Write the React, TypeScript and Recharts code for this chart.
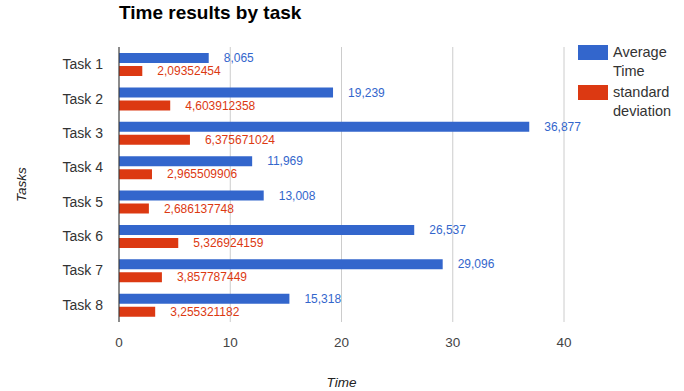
import React from "react";
import {
  BarChart,
  Bar,
  XAxis,
  YAxis,
  CartesianGrid,
  LabelList,
} from "recharts";

const tasks = ["Task 1", "Task 2", "Task 3", "Task 4", "Task 5", "Task 6", "Task 7", "Task 8"];
const averageTime = [8.065, 19.239, 36.877, 11.969, 13.008, 26.537, 29.096, 15.318];
const standardDeviation = [
  2.09352454, 4.603912358, 6.375671024, 2.965509906, 2.686137748, 5.326924159,
  3.857787449, 3.255321182,
];
const xTicks = [0, 10, 20, 30, 40];

const BLUE = "#3366cc";
const RED = "#dc3912";
const FONT = "'Liberation Sans', Arial, sans-serif";

const data = tasks.map((name, i) => ({
  name,
  avg: averageTime[i],
  sd: standardDeviation[i],
}));

// values are shown with a decimal comma
const fmt = (v: number) => String(v).replace(".", ",");

const makeLabel = (color: string) => (props: any) => {
  const { x, y, width, height, value } = props;
  return (
    <text
      x={x + width + 15}
      y={y + height / 2}
      dy="0.35em"
      fill={color}
      fontSize={12}
      fontFamily={FONT}
    >
      {fmt(value)}
    </text>
  );
};

const legendItems = [
  { color: BLUE, lines: ["Average", "Time"] },
  { color: RED, lines: ["standard", "deviation"] },
];

const LegendBox = () => (
  <div
    style={{
      position: "absolute",
      left: 578,
      top: 45,
      fontFamily: FONT,
      fontSize: 14.5,
      color: "#333",
      lineHeight: "19px",
    }}
  >
    {legendItems.map((item) => (
      <div key={item.lines[0]} style={{ display: "flex", marginBottom: 4 }}>
        <div
          style={{
            width: 30,
            height: 15,
            background: item.color,
            marginRight: 5,
            flexShrink: 0,
          }}
        />
        <div style={{ marginTop: -2 }}>
          {item.lines.map((l) => (
            <div key={l}>{l}</div>
          ))}
        </div>
      </div>
    ))}
  </div>
);

export default function App() {
  return (
    <div style={{ position: "relative", width: 684, height: 391, background: "#fff" }}>
      <style>{`body{margin:0}`}</style>
      <div
        style={{
          position: "absolute",
          left: 119,
          top: 2,
          fontFamily: FONT,
          fontWeight: "bold",
          fontSize: 19,
          color: "#000",
        }}
      >
        Time results by task
      </div>
      <BarChart
        width={684}
        height={391}
        data={data}
        layout="vertical"
        margin={{ top: 47, right: 120, bottom: 0, left: 0 }}
        barSize={10}
        barGap={3}
        barCategoryGap={0}
      >
        <CartesianGrid horizontal={false} stroke="#cccccc" />
        <XAxis
          type="number"
          domain={[0, 40]}
          ticks={xTicks}
          axisLine={false}
          tickLine={false}
          height={69}
          tick={{ fill: "#444", fontSize: 13.5, fontFamily: FONT }}
          tickMargin={9}
          label={{
            value: "Time",
            position: "insideBottom",
            offset: 4,
            fill: "#222",
            fontSize: 13.5,
            fontStyle: "italic",
            fontFamily: FONT,
          }}
        />
        <YAxis
          type="category"
          dataKey="name"
          width={119}
          axisLine={{ stroke: "#333" }}
          tickLine={false}
          tickMargin={10}
          tick={{ fill: "#333", fontSize: 14, fontFamily: FONT }}
          label={({ viewBox }: any) => (
            <text
              x={26}
              y={viewBox.y + viewBox.height / 2}
              transform={`rotate(-90 26 ${viewBox.y + viewBox.height / 2})`}
              textAnchor="middle"
              fill="#222"
              fontSize={13.5}
              fontStyle="italic"
              fontFamily={FONT}
            >
              Tasks
            </text>
          )}
        />
        <Bar dataKey="avg" name="Average Time" fill={BLUE} isAnimationActive={false}>
          <LabelList dataKey="avg" content={makeLabel(BLUE)} />
        </Bar>
        <Bar dataKey="sd" name="standard deviation" fill={RED} isAnimationActive={false}>
          <LabelList dataKey="sd" content={makeLabel(RED)} />
        </Bar>
      </BarChart>
      <LegendBox />
    </div>
  );
}
